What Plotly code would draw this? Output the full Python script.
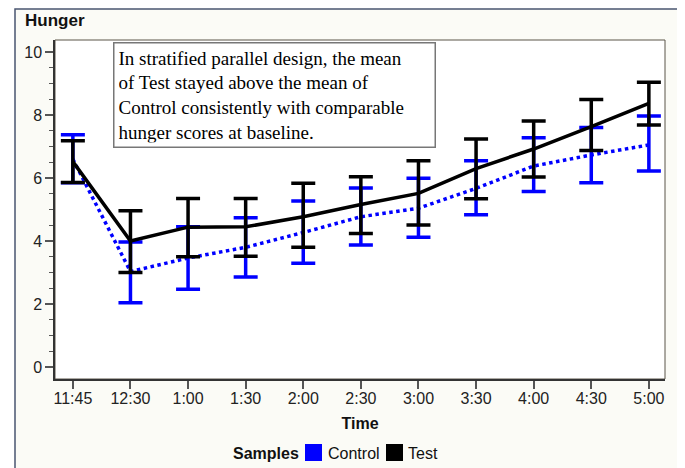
import plotly.graph_objects as go

times = ["11:45", "12:30", "1:00", "1:30", "2:00", "2:30", "3:00", "3:30", "4:00", "4:30", "5:00"]

control_mean = [6.60, 3.03, 3.46, 3.80, 4.27, 4.77, 5.04, 5.67, 6.38, 6.73, 7.05]
control_upper = [7.37, 3.97, 4.45, 4.74, 5.27, 5.68, 5.99, 6.55, 7.28, 7.60, 7.97]
control_lower = [5.85, 2.04, 2.47, 2.86, 3.29, 3.87, 4.12, 4.83, 5.57, 5.85, 6.22]

test_mean = [6.52, 4.00, 4.44, 4.45, 4.77, 5.16, 5.51, 6.30, 6.92, 7.63, 8.37]
test_upper = [7.18, 4.96, 5.35, 5.35, 5.83, 6.04, 6.55, 7.24, 7.81, 8.49, 9.04]
test_lower = [5.86, 3.00, 3.50, 3.52, 3.80, 4.24, 4.51, 5.34, 6.03, 6.87, 7.68]

series_names = ["Control", "Test"]
legend_title = "Samples"
note = ("In stratified parallel design, the mean<br>of Test stayed above the mean of<br>"
        "Control consistently with comparable<br>hunger scores at baseline.")

BLUE = "#0000FF"
BLACK = "#000000"

OFF = 8  # page body margin
W, H = 685 - OFF, 468 - OFF
L, R, T, B = 55 - OFF, 665 - OFF, 40 - OFF, 379 - OFF  # plot area in figure pixels
pw, ph = R - L, B - T


def px(x):  # reference-image pixel -> paper x
    return (x - OFF - L) / pw


def py(y):  # reference-image pixel -> paper y
    return (B - (y - OFF)) / ph


fig = go.Figure()

fig.add_trace(go.Scatter(
    x=times, y=control_mean, mode="lines", name=series_names[0], showlegend=False,
    line=dict(color=BLUE, width=3.5, dash="dot"),
    error_y=dict(type="data", symmetric=False,
                 array=[u - m for u, m in zip(control_upper, control_mean)],
                 arrayminus=[m - l for m, l in zip(control_mean, control_lower)],
                 color=BLUE, thickness=3.5, width=12),
))
fig.add_trace(go.Scatter(
    x=times, y=test_mean, mode="lines", name=series_names[1], showlegend=False,
    line=dict(color=BLACK, width=3.5),
    error_y=dict(type="data", symmetric=False,
                 array=[u - m for u, m in zip(test_upper, test_mean)],
                 arrayminus=[m - l for m, l in zip(test_mean, test_lower)],
                 color=BLACK, thickness=3.5, width=12),
))

FONT = "Arial, Liberation Sans, sans-serif"

shapes = [
    dict(type="rect", xref="paper", yref="paper", layer="below",
         x0=px(15), x1=px(680), y0=py(490), y1=py(9),
         line=dict(color="#4A5670", width=1.5), fillcolor="#FBFBF6"),
    dict(type="rect", xref="paper", yref="paper", layer="below",
         x0=0, x1=1, y0=0, y1=1,
         line=dict(color="#5A5548", width=1), fillcolor="white"),
    # legend swatches
    dict(type="rect", xref="paper", yref="paper", x0=px(305), x1=px(322), y0=py(461), y1=py(444),
         line=dict(width=0), fillcolor=BLUE),
    dict(type="rect", xref="paper", yref="paper", x0=px(386), x1=px(403), y0=py(461), y1=py(444),
         line=dict(width=0), fillcolor=BLACK),
]

annotations = [
    dict(text="<b>Hunger</b>", xref="paper", yref="paper", x=px(23), y=py(21),
         xanchor="left", yanchor="middle", showarrow=False,
         font=dict(size=17, color="#111111", family=FONT)),
    dict(text=note, xref="paper", yref="paper", x=px(113), y=py(42),
         xanchor="left", yanchor="top", showarrow=False, align="left",
         font=dict(size=19, color="#000000", family="Liberation Serif, Times New Roman, serif"),
         bgcolor="white", bordercolor="#777777", borderwidth=1.5, borderpad=4,
         width=312),
    dict(text="<b>" + legend_title + "</b>", xref="paper", yref="paper", x=px(301), y=py(453),
         xanchor="right", yanchor="middle", showarrow=False,
         font=dict(size=16, color="#111111", family=FONT)),
    dict(text=series_names[0], xref="paper", yref="paper", x=px(326), y=py(453),
         xanchor="left", yanchor="middle", showarrow=False,
         font=dict(size=16, color="#111111", family=FONT)),
    dict(text=series_names[1], xref="paper", yref="paper", x=px(406), y=py(453),
         xanchor="left", yanchor="middle", showarrow=False,
         font=dict(size=16, color="#111111", family=FONT)),
]

fig.update_layout(
    width=W, height=H,
    margin=dict(l=L, r=W - R, t=T, b=H - B),
    paper_bgcolor="white",
    plot_bgcolor="white",
    font=dict(family=FONT, size=16, color="#222222"),
    showlegend=False,
    xaxis=dict(
        type="category", range=[-0.31, 10.28], showgrid=False, zeroline=False,
        showline=True, linecolor="#333333", linewidth=1.5,
        ticks="outside", ticklen=8, tickcolor="#555555", tickwidth=1.5,
        ticklabelstandoff=-4,
        tickfont=dict(size=16, color="#222222"),
        title=dict(text="<b>Time</b>", font=dict(size=16, color="#111111"), standoff=12),
    ),
    yaxis=dict(
        range=[-0.38, 10.38], showgrid=False, zeroline=False,
        showline=True, linecolor="#333333", linewidth=1.5,
        tickvals=[0, 2, 4, 6, 8, 10],
        ticks="outside", ticklen=8, tickcolor="#555555", tickwidth=1.5,
        tickfont=dict(size=16, color="#222222"),
        minor=dict(dtick=0.5, tick0=0, ticks="outside", ticklen=4, tickcolor="#555555", tickwidth=1.2),
    ),
    shapes=shapes,
    annotations=annotations,
)

fig.write_html("out.html")
